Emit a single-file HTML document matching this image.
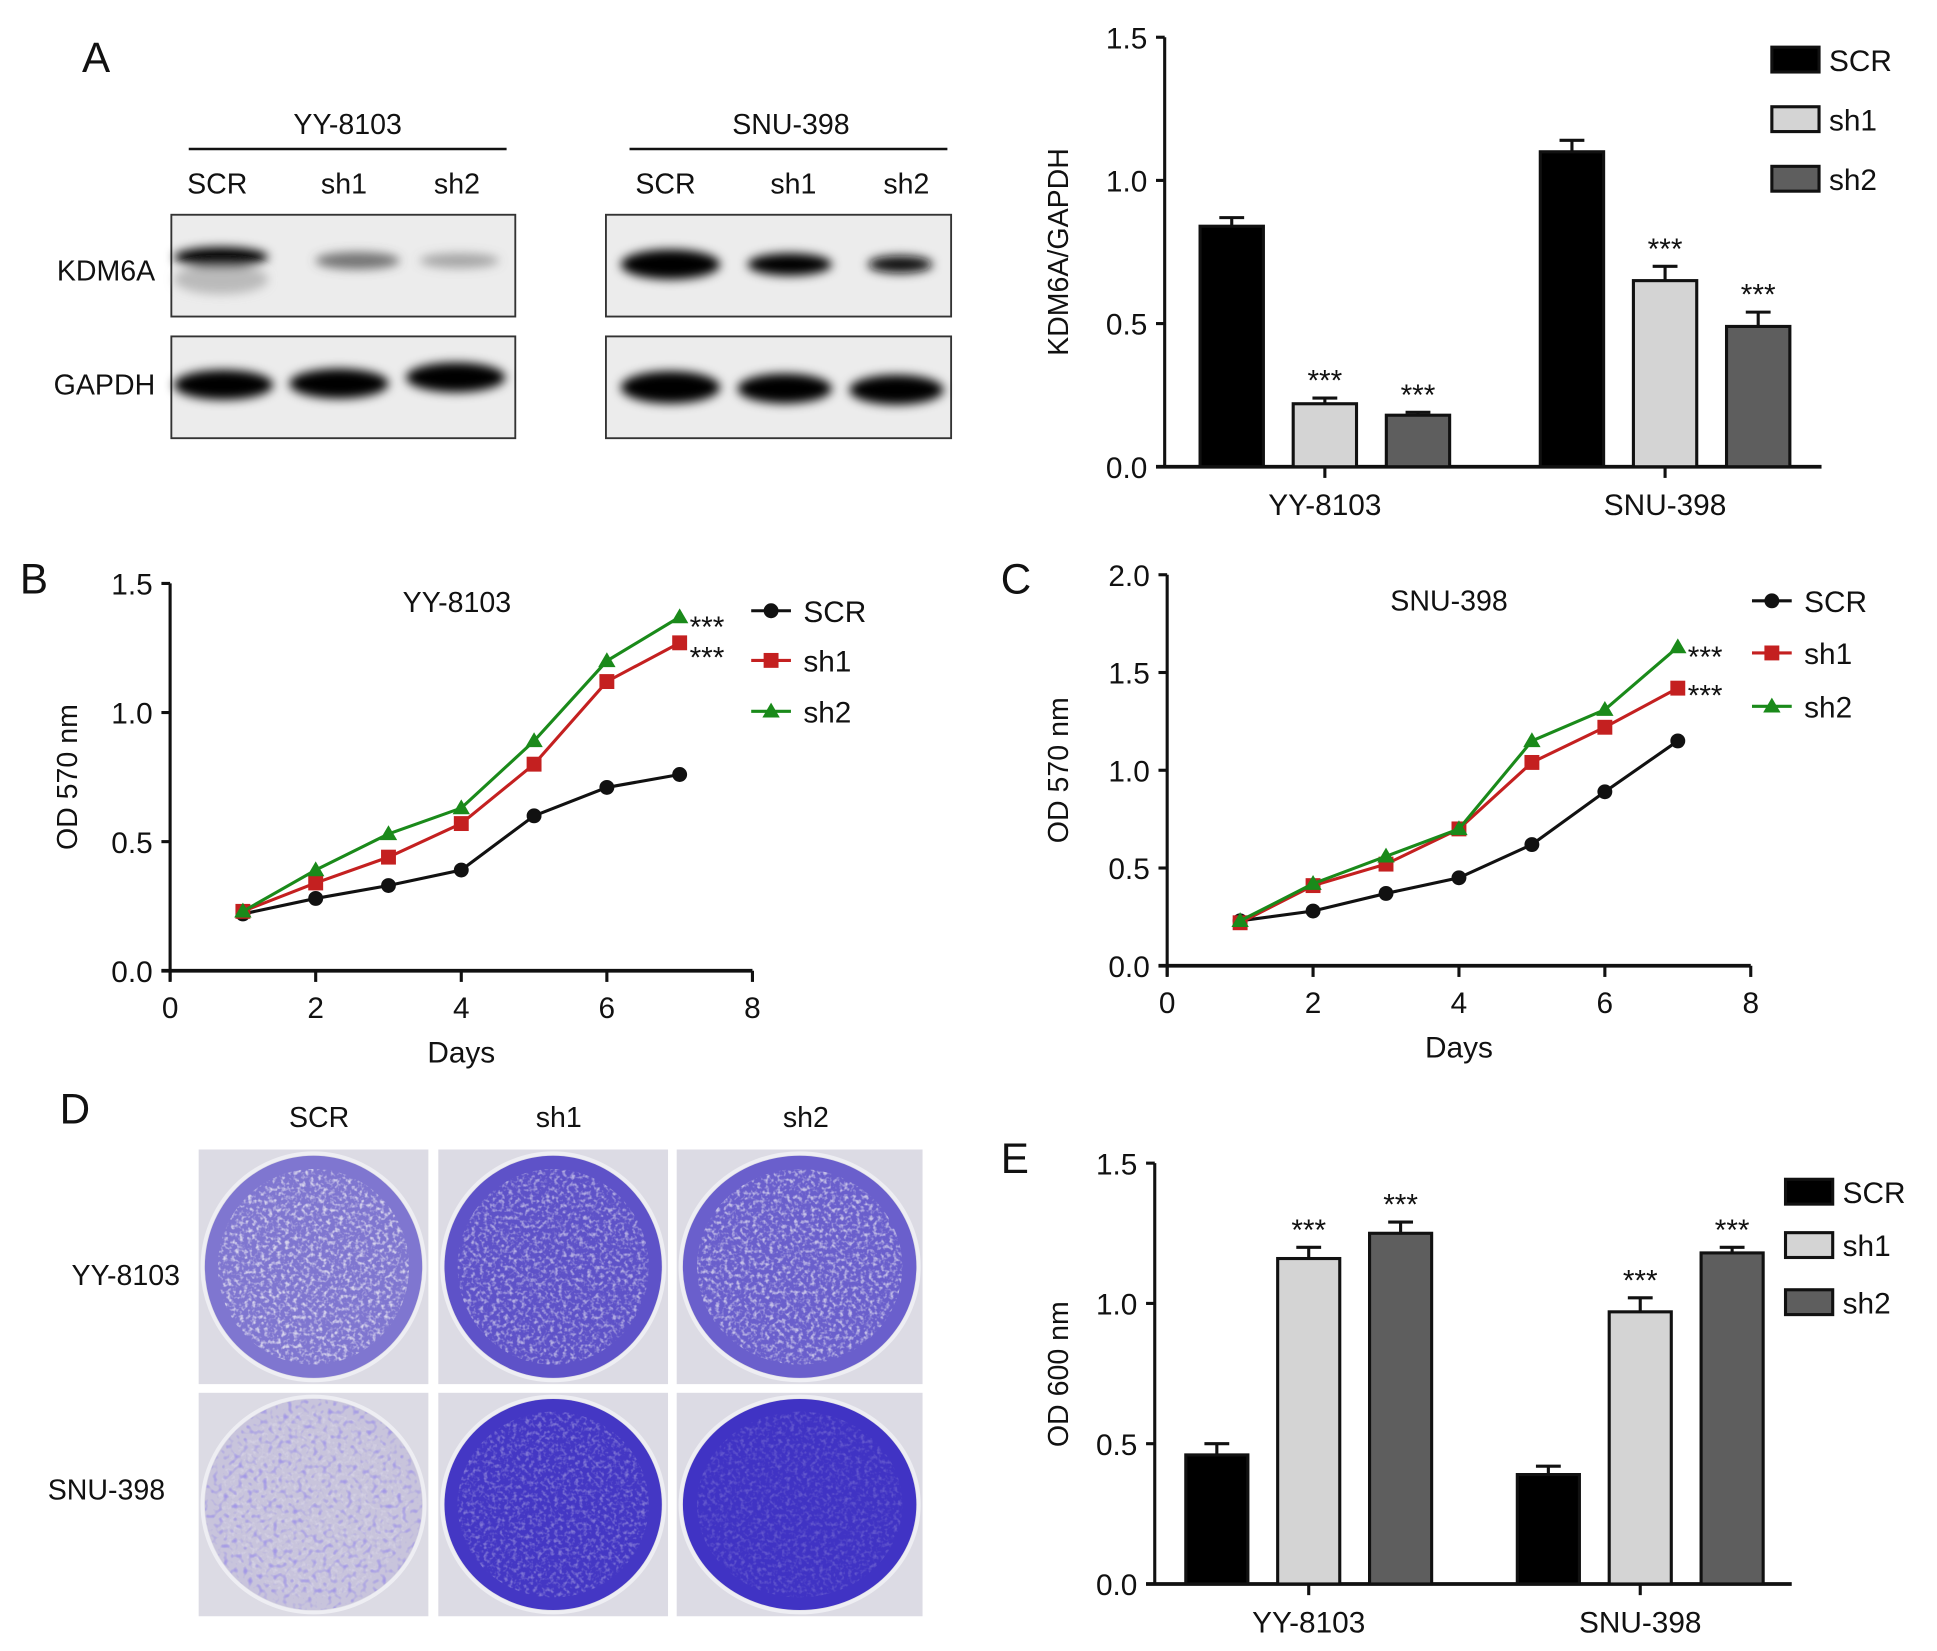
<!DOCTYPE html>
<html><head><meta charset="utf-8"><style>
html,body{margin:0;padding:0;background:#fff;}
svg{display:block;}
text{font-family:"Liberation Sans",Arial,sans-serif;fill:#111;}
</style></head><body>
<svg id="fig" width="1937" height="1651" viewBox="0 0 1560 1330" preserveAspectRatio="none" xmlns="http://www.w3.org/2000/svg">
<defs>
<filter id="blur" x="-20%" y="-50%" width="140%" height="200%"><feGaussianBlur stdDeviation="4"/></filter>
<filter id="noise"><feTurbulence type="fractalNoise" baseFrequency="0.3" numOctaves="2" seed="3"/><feColorMatrix type="matrix" values="0 0 0 0 0.85  0 0 0 0 0.84  0 0 0 0 0.9  0 0 0 -3 1.6"/></filter>
<filter id="dots"><feTurbulence type="fractalNoise" baseFrequency="0.25" numOctaves="1" seed="7"/><feColorMatrix type="matrix" values="0 0 0 0 0.35  0 0 0 0 0.3  0 0 0 0 0.8  0 0 0 4 -2.1"/></filter>
</defs>

<!-- Panel A blots -->
<g>
<text x="66" y="58" font-size="34">A</text>
<text x="280" y="108" font-size="23" text-anchor="middle">YY-8103</text>
<line x1="152" y1="120" x2="408" y2="120" stroke="#111" stroke-width="2"/>
<text x="637" y="108" font-size="23" text-anchor="middle">SNU-398</text>
<line x1="507" y1="120" x2="763" y2="120" stroke="#111" stroke-width="2"/>
<text x="175" y="156" font-size="23" text-anchor="middle">SCR</text>
<text x="277" y="156" font-size="23" text-anchor="middle">sh1</text>
<text x="368" y="156" font-size="23" text-anchor="middle">sh2</text>
<text x="536" y="156" font-size="23" text-anchor="middle">SCR</text>
<text x="639" y="156" font-size="23" text-anchor="middle">sh1</text>
<text x="730" y="156" font-size="23" text-anchor="middle">sh2</text>
<text x="125" y="226" font-size="23" text-anchor="end">KDM6A</text>
<text x="125" y="318" font-size="23" text-anchor="end">GAPDH</text>
<rect x="138" y="173" width="277" height="82" fill="#ececec" stroke="#333" stroke-width="1.5"/>
<rect x="138" y="271" width="277" height="82" fill="#ececec" stroke="#333" stroke-width="1.5"/>
<rect x="488" y="173" width="278" height="82" fill="#ececec" stroke="#333" stroke-width="1.5"/>
<rect x="488" y="271" width="278" height="82" fill="#ececec" stroke="#333" stroke-width="1.5"/>
<g filter="url(#blur)">
<ellipse cx="178" cy="207" rx="38" ry="8" fill="#000"/>
<ellipse cx="178" cy="225" rx="38" ry="12" fill="#999" opacity="0.6"/>
<ellipse cx="288" cy="210" rx="34" ry="7" fill="#555" opacity="0.8"/>
<ellipse cx="370" cy="210" rx="32" ry="6" fill="#777" opacity="0.6"/>
<ellipse cx="180" cy="310" rx="40" ry="12" fill="#000"/>
<ellipse cx="273" cy="309" rx="40" ry="12" fill="#000"/>
<ellipse cx="367" cy="304" rx="40" ry="12" fill="#000"/>
<ellipse cx="540" cy="213" rx="40" ry="12" fill="#000"/>
<ellipse cx="636" cy="213" rx="34" ry="9" fill="#000"/>
<ellipse cx="725" cy="213" rx="26" ry="7" fill="#111"/>
<ellipse cx="540" cy="312" rx="40" ry="13" fill="#000"/>
<ellipse cx="632" cy="313" rx="38" ry="12" fill="#000"/>
<ellipse cx="722" cy="314" rx="38" ry="12" fill="#000"/>
</g>
</g>

<g id="chartA"></g>
<g id="chartB"></g>
<g id="chartC"></g>

<!-- Panel D -->
<g id="panelD">
<text x="48" y="905" font-size="34">D</text>
<text x="257" y="908" font-size="23" text-anchor="middle">SCR</text>
<text x="450" y="908" font-size="23" text-anchor="middle">sh1</text>
<text x="649" y="908" font-size="23" text-anchor="middle">sh2</text>
<text x="145" y="1035" font-size="23" text-anchor="end">YY-8103</text>
<text x="133" y="1208" font-size="23" text-anchor="end">SNU-398</text>
</g>

<g id="chartE"></g>
</svg>
<script>
const NS="http://www.w3.org/2000/svg";
function mk(parent,tag,attrs,txt){const e=document.createElementNS(NS,tag);for(const k in attrs)e.setAttribute(k,attrs[k]);if(txt!==undefined)e.textContent=txt;parent.appendChild(e);return e;}

// ---------- data ----------
const barGroups=["YY-8103","SNU-398"];
const barSeries=["SCR","sh1","sh2"];
const barColors=["#000000","#d4d4d4","#5e5e5e"];
const kdmYY=[0.84,0.22,0.18];
const kdmYYErr=[0.03,0.02,0.01];
const kdmSNU=[1.10,0.65,0.49];
const kdmSNUErr=[0.04,0.05,0.05];
const kdmSig=["","***","***"];
const kdmTicks=["0.0","0.5","1.0","1.5"];

const days=[1,2,3,4,5,6,7];
const dayTicks=[0,2,4,6,8];
const bSCR=[0.22,0.28,0.33,0.39,0.60,0.71,0.76];
const bSh1=[0.23,0.34,0.44,0.57,0.80,1.12,1.27];
const bSh2=[0.23,0.39,0.53,0.63,0.89,1.20,1.37];
const bTicks=["0.0","0.5","1.0","1.5"];
const cSCR=[0.23,0.28,0.37,0.45,0.62,0.89,1.15];
const cSh1=[0.22,0.41,0.52,0.70,1.04,1.22,1.42];
const cSh2=[0.23,0.42,0.56,0.70,1.15,1.31,1.63];
const cTicks=["0.0","0.5","1.0","1.5","2.0"];

const odYY=[0.46,1.16,1.25];
const odYYErr=[0.04,0.04,0.04];
const odSNU=[0.39,0.97,1.18];
const odSNUErr=[0.03,0.05,0.02];
const odSig=["","***","***"];
const odTicks=["0.0","0.5","1.0","1.5"];

// ---------- bar chart ----------
function barChart(g,cfg){
  const y=v=>cfg.y0-(v/cfg.ymax)*(cfg.y0-cfg.y1);
  mk(g,"line",{x1:cfg.ax,y1:cfg.y1,x2:cfg.ax,y2:cfg.y0+1,stroke:"#111","stroke-width":2.5});
  mk(g,"line",{x1:cfg.ax-7,y1:cfg.y0,x2:cfg.axEnd,y2:cfg.y0,stroke:"#111","stroke-width":3});
  cfg.ticks.forEach(t=>{const yy=y(parseFloat(t));
    mk(g,"line",{x1:cfg.ax-7,y1:yy,x2:cfg.ax,y2:yy,stroke:"#111","stroke-width":2.5});
    const tl=mk(g,"text",{x:cfg.ax-14,y:yy+9,"font-size":24,"text-anchor":"end"},t);
    
    
  });
  const yl=mk(g,"text",{x:0,y:0,"font-size":23,"text-anchor":"middle",transform:`translate(${cfg.ylx},${cfg.ylc}) rotate(-90)`},cfg.ylabel);
  
  
  const groups=[[cfg.v1,cfg.e1],[cfg.v2,cfg.e2]];
  groups.forEach((gr,gi)=>{
    const c=cfg.gc[gi];
    mk(g,"line",{x1:c,y1:cfg.y0,x2:c,y2:cfg.y0+9,stroke:"#111","stroke-width":2.5});
    const cl=mk(g,"text",{x:c,y:cfg.y0+39,"font-size":24,"text-anchor":"middle"},barGroups[gi]);
    
    
    gr[0].forEach((v,i)=>{
      const cx=c+(i-1)*cfg.step, w=cfg.bw;
      const top=y(v), et=y(v+gr[1][i]);
      mk(g,"line",{x1:cx,y1:top,x2:cx,y2:et,stroke:"#111","stroke-width":2.5});
      mk(g,"line",{x1:cx-10,y1:et,x2:cx+10,y2:et,stroke:"#111","stroke-width":2.5});
      const r=mk(g,"rect",{x:cx-w/2,y:top,width:w,height:cfg.y0-top,fill:barColors[i],stroke:"#111","stroke-width":2.5});
      
      
      if(cfg.sig[i]){mk(g,"text",{x:cx,y:et-6,"font-size":24,"text-anchor":"middle"},cfg.sig[i]);}
    });
  });
  barSeries.forEach((s,i)=>{
    const ly=cfg.legY[i];
    mk(g,"rect",{x:cfg.legX,y:ly-10,width:38,height:20,fill:barColors[i],stroke:"#111","stroke-width":2.5});
    const t=mk(g,"text",{x:cfg.legX+46,y:ly+9,"font-size":24},s);
    
    
  });
}
barChart(document.getElementById("chartA"),{ax:938,axEnd:1467,y0:376,y1:30,ymax:1.5,ticks:kdmTicks,
  gc:[1067,1341],step:75,bw:51,v1:kdmYY,e1:kdmYYErr,v2:kdmSNU,e2:kdmSNUErr,sig:kdmSig,
  ylabel:"KDM6A/GAPDH",ylx:860,ylc:203,legX:1427,legY:[48,96,144]});
barChart(document.getElementById("chartE"),{ax:930,axEnd:1443,y0:1276,y1:937,ymax:1.5,ticks:odTicks,
  gc:[1054,1321],step:74,bw:50,v1:odYY,e1:odYYErr,v2:odSNU,e2:odSNUErr,sig:odSig,
  ylabel:"OD 600 nm",ylx:860,ylc:1107,legX:1438,legY:[960,1003,1049]});
(function(){const g=document.getElementById("chartE");const t=mk(g,"text",{x:806,y:945,"font-size":34},"E");
})();

// ---------- line chart ----------
function lineChart(g,cfg){
  const x=v=>cfg.x0+(v/8)*(cfg.x8-cfg.x0);
  const y=v=>cfg.y0-(v/cfg.ymax)*(cfg.y0-cfg.y1);
  mk(g,"text",{x:cfg.lblX,y:cfg.lblY,"font-size":34},cfg.letter);
  mk(g,"line",{x1:cfg.x0,y1:cfg.y1,x2:cfg.x0,y2:cfg.y0+8,stroke:"#111","stroke-width":2.5});
  mk(g,"line",{x1:cfg.x0-7,y1:cfg.y0,x2:cfg.x8,y2:cfg.y0,stroke:"#111","stroke-width":3});
  cfg.ticks.forEach(t=>{const yy=y(parseFloat(t));
    mk(g,"line",{x1:cfg.x0-7,y1:yy,x2:cfg.x0,y2:yy,stroke:"#111","stroke-width":2.5});
    const tl=mk(g,"text",{x:cfg.x0-14,y:yy+9,"font-size":24,"text-anchor":"end"},t);
    
    
  });
  dayTicks.forEach(d=>{const xx=x(d);
    mk(g,"line",{x1:xx,y1:cfg.y0,x2:xx,y2:cfg.y0+9,stroke:"#111","stroke-width":2.5});
    const tl=mk(g,"text",{x:xx,y:cfg.y0+38,"font-size":24,"text-anchor":"middle"},String(d));
    
    
  });
  const xt=mk(g,"text",{x:(cfg.x0+cfg.x8)/2,y:cfg.y0+74,"font-size":24,"text-anchor":"middle"},"Days");
  
  
  const yt=mk(g,"text",{x:0,y:0,"font-size":23,"text-anchor":"middle",transform:`translate(${cfg.ylx},${(cfg.y0+cfg.y1)/2}) rotate(-90)`},"OD 570 nm");
  
  
  const ti=mk(g,"text",{x:cfg.titleX,y:cfg.titleY,"font-size":23,"text-anchor":"middle"},cfg.title);
  
  
  const series=[[cfg.s0,"#111","circle","SCR"],[cfg.s1,"#c42020","square","sh1"],[cfg.s2,"#1a8a1a","tri","sh2"]];
  function marker(px,py,type,col,s){
    if(type==="circle") return mk(g,"circle",{cx:px,cy:py,r:s,fill:col});
    if(type==="square") return mk(g,"rect",{x:px-s,y:py-s,width:2*s,height:2*s,fill:col});
    return mk(g,"polygon",{points:`${px},${py-s-1} ${px-s-1},${py+s-1} ${px+s+1},${py+s-1}`,fill:col});
  }
  series.forEach(([vals,col,type,name])=>{
    const pts=days.map((d,i)=>x(d)+","+y(vals[i])).join(" ");
    const pl=mk(g,"polyline",{points:pts,fill:"none",stroke:col,"stroke-width":2.5});
    
    
    days.forEach((d,i)=>{const m=marker(x(d),y(vals[i]),type,col,6);
      
      });
  });
  mk(g,"text",{x:x(7)+8,y:y(cfg.s2[6])+16,"font-size":24},"***");
  mk(g,"text",{x:x(7)+8,y:y(cfg.s1[6])+cfg.sigOff,"font-size":24},"***");
  series.forEach(([vals,col,type,name],i)=>{
    const ly=cfg.legY[i];
    mk(g,"line",{x1:cfg.legX,y1:ly,x2:cfg.legX+32,y2:ly,stroke:col,"stroke-width":2.5});
    marker(cfg.legX+16,ly,type,col,6);
    const t=mk(g,"text",{x:cfg.legX+42,y:ly+9,"font-size":24},name);
    
    
  });
}
lineChart(document.getElementById("chartB"),{letter:"B",lblX:16,lblY:478,x0:137,x8:606,y0:782,y1:470,ymax:1.5,ticks:bTicks,
  s0:bSCR,s1:bSh1,s2:bSh2,ylx:62,title:"YY-8103",titleX:368,titleY:493,legX:605,legY:[492,532,573],sigOff:20});
lineChart(document.getElementById("chartC"),{letter:"C",lblX:806,lblY:478,x0:940,x8:1410,y0:778,y1:463,ymax:2.0,ticks:cTicks,
  s0:cSCR,s1:cSh1,s2:cSh2,ylx:860,title:"SNU-398",titleX:1167,titleY:492,legX:1411,legY:[484,526,569],sigOff:14});

// ---------- Panel D plates ----------
(function(){
  const g=document.getElementById("panelD");
  const cols=[[160,345],[353,538],[545,743]];
  const rows=[[926,1115],[1122,1302]];
  const fills=[["#7f76d0","#5e52c8","#6a5fcc"],["#c8c4dc","#4437c4","#4033c4"]];
  const holes=[[0.8,0.6,0.7],[0.3,0.35,0.2]];
  rows.forEach((r,ri)=>cols.forEach((c,ci)=>{
    const w=c[1]-c[0],h=r[1]-r[0];
    const bg=mk(g,"rect",{x:c[0],y:r[0],width:w,height:h,fill:"#dcdbe4"});
    
    
    const cx=c[0]+w/2,cy=r[0]+h/2,rx=w/2-5,ry=h/2-5;
    mk(g,"ellipse",{cx:cx,cy:cy,rx:rx+2,ry:ry+2,fill:"none",stroke:"#eeeef3","stroke-width":3});
    mk(g,"ellipse",{cx:cx,cy:cy,rx:rx,ry:ry,fill:fills[ri][ci]});
    const clip="clip"+ri+ci;
    const cp=mk(g,"clipPath",{id:clip});
    mk(cp,"ellipse",{cx:cx,cy:cy,rx:rx*0.88,ry:ry*0.88});
    mk(g,"rect",{x:c[0],y:r[0],width:w,height:h,filter:"url(#noise)","clip-path":`url(#${clip})`,opacity:holes[ri][ci]});
    if(ri===1&&ci===0){
      const cp2=mk(g,"clipPath",{id:"clipd"});
      mk(cp2,"ellipse",{cx:cx,cy:cy,rx:rx,ry:ry});
      mk(g,"rect",{x:c[0],y:r[0],width:w,height:h,filter:"url(#dots)","clip-path":"url(#clipd)",opacity:0.9});
    }
  }));
})();
</script>
</body></html>
